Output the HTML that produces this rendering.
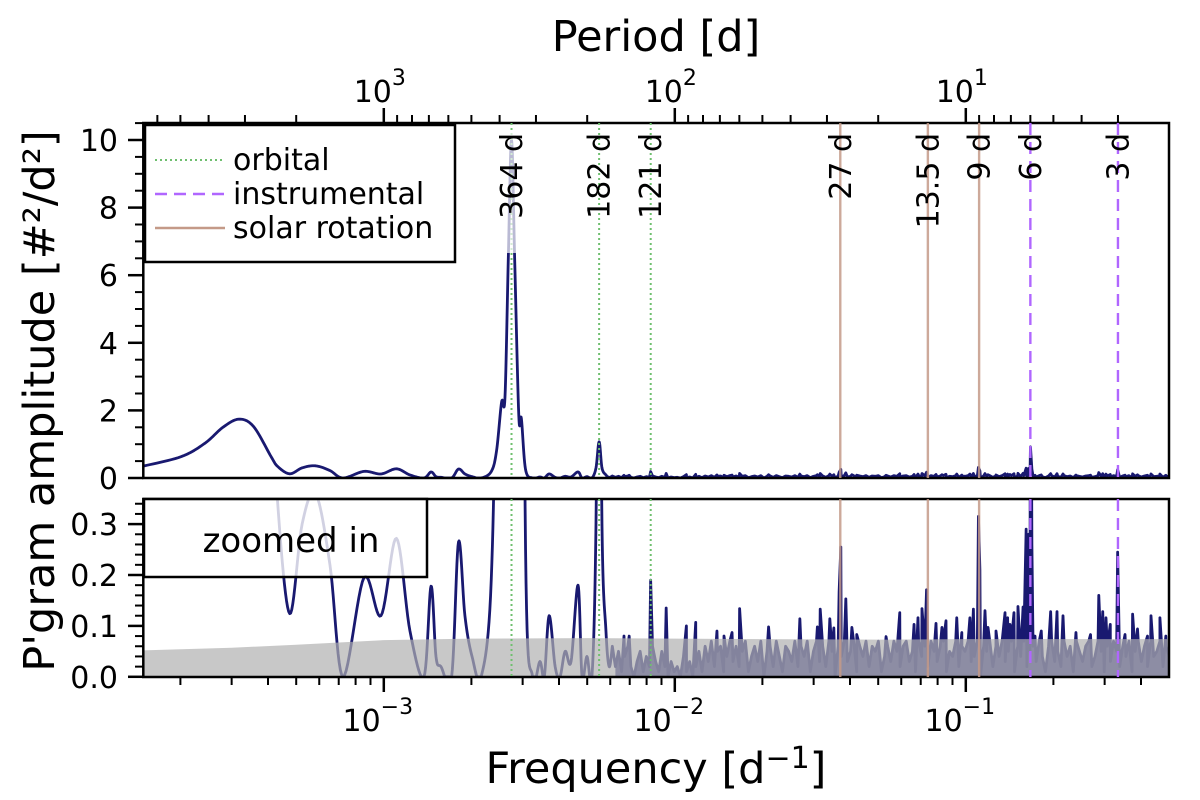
<!DOCTYPE html>
<html><head><meta charset="utf-8"><style>
html,body{margin:0;padding:0;background:#fff;}
svg{display:block;font-family:"DejaVu Sans","Liberation Sans",sans-serif;}
</style></head><body>
<svg id="chart" xmlns="http://www.w3.org/2000/svg" width="1200" height="800" viewBox="0 0 1200 800">
<defs>
<clipPath id="clipTop"><rect x="143.3" y="123" width="1025.7" height="355"/></clipPath>
<clipPath id="clipBot"><rect x="143.3" y="499" width="1025.7" height="178"/></clipPath>
</defs>
<g id="gTopData" clip-path="url(#clipTop)"></g>
<g id="gBotData" clip-path="url(#clipBot)"></g>
<g id="gAxes"></g>
<text x="656" y="51" font-size="43" text-anchor="middle">Period [d]</text>
<text x="656" y="783" font-size="43" text-anchor="middle">Frequency [d<tspan font-size="30" dy="-15">−1</tspan><tspan dy="15">]</tspan></text>
<text transform="translate(54,401) rotate(-90)" font-size="43" text-anchor="middle">P'gram amplitude [#²/d²]</text>
</svg>
<script>
// ---- data ----
const smoothFreq = [1.488e-4,2.01e-4,2.43e-4,2.8e-4,3.18e-4,3.57e-4,4.10e-4,4.32e-4,4.75e-4,5.24e-4,5.83e-4,6.53e-4,7.24e-4,8.55e-4,9.78e-4,1.105e-3,1.23e-3,1.374e-3,1.453e-3,1.511e-3,1.572e-3,1.71e-3,1.806e-3,1.90e-3,2.01e-3,2.16e-3,2.34e-3,2.44e-3,2.54e-3,2.609e-3,2.68e-3,2.747e-3,2.818e-3,2.91e-3,2.97e-3,3.07e-3,3.245e-3,3.44e-3,3.56e-3,3.70e-3,3.88e-3,4.03e-3,4.20e-3,4.40e-3,4.65e-3,4.80e-3,4.99e-3,5.19e-3,5.36e-3,5.495e-3,5.62e-3,5.80e-3,5.95e-3,6.1e-3];
const smoothAmp = [0.35,0.63,1.03,1.5,1.74,1.52,0.63,0.34,0.124,0.30,0.36,0.22,0.0,0.195,0.12,0.272,0.09,0.0,0.178,0.04,0.02,0.0,0.265,0.12,0.04,0.0,0.19,0.8,2.25,2.4,6.6,10.0,6.4,1.85,1.76,0.25,0.0,0.03,0.0,0.12,0.02,0.0,0.05,0.03,0.18,0.0,0.04,0.0,0.3,1.07,0.3,0.09,0.02,0.06];
const noiseAmp = [0.02,0.05,0.01,0.04,0.06,0.02,0.00,0.03,0.05,0.01,0.04,0.02,0.06,0.03,0.01,0.05,0.02,0.00,0.03,0.01,
0.02,0.00,0.04,0.01,0.03,0.00,0.02,0.05,0.01,0.06,0.03,0.07,0.02,0.05,0.06,0.01,0.04,0.07,0.03,0.06,
0.02,0.05,0.07,0.01,0.04,0.06,0.03,0.07,0.00,0.05,0.06,0.02,0.07,0.04,0.01,0.06,0.05,0.03,0.07,0.02,
0.06,0.04,0.07,0.01,0.05,0.07,0.03,0.06,0.02,0.07,0.05,0.00,0.06,0.04,0.07,0.03,0.05,0.07,0.01,0.06,
0.04,0.07,0.02,0.06,0.05,0.07,0.01,0.04,0.06,0.03,0.07,0.05,0.02,0.06,0.07,0.03,0.05,0.01,0.07,0.04,
0.06,0.02,0.07,0.05,0.03,0.06,0.07,0.01,0.05,0.04,0.07,0.02,0.06,0.05,0.07,0.03,0.04,0.07,0.00,0.06,
0.05,0.07,0.02,0.06,0.04,0.07,0.03,0.05,0.07,0.01,0.06,0.04,0.07,0.02,0.05,0.06,0.03,0.07,0.04,0.01,
0.06,0.07,0.03,0.05,0.02,0.07,0.04,0.06,0.01,0.07,0.05,0.03,0.06,0.07,0.02,0.04,0.07,0.05,0.01,0.06,
0.03,0.07,0.05,0.02,0.06,0.04,0.07,0.01,0.05,0.07,0.03,0.06,0.02,0.07,0.04,0.05,0.07,0.02,0.06,0.04];
const spikeFreq = [6.69e-3,6.97e-3,8.26e-3,9.34e-3,1.096e-2,1.180e-2,1.396e-2,1.476e-2,1.573e-2,1.670e-2,2.10e-2,2.69e-2,3.09e-2,3.16e-2,3.41e-2,3.52e-2,3.67e-2,3.72e-2,3.87e-2,4.06e-2,4.22e-2,5.32e-2,5.93e-2,6.64e-2,6.85e-2,7.07e-2,7.33e-2,7.90e-2,8.28e-2,8.55e-2,9.31e-2,9.69e-2,0.1033,0.1062,0.1105,0.1118,0.1164,0.1192,0.1270,0.1364,0.1392,0.1418,0.1464,0.1511,0.1573,0.1612,0.1643,0.1668,0.1687,0.1729,0.1817,0.1957,0.2058,0.2158,0.2391,0.2683,0.2864,0.2955,0.3032,0.3137,0.3325,0.3525,0.3743,0.3891,0.4211,0.4329,0.4646,0.4869];
const spikeAmp = [0.08,0.08,0.19,0.135,0.10,0.107,0.09,0.08,0.087,0.134,0.098,0.114,0.098,0.133,0.114,0.096,0.167,0.255,0.153,0.097,0.083,0.079,0.126,0.103,0.116,0.134,0.171,0.105,0.097,0.11,0.116,0.087,0.116,0.133,0.315,0.21,0.13,0.097,0.09,0.126,0.116,0.103,0.126,0.138,0.137,0.29,0.28,0.92,0.26,0.08,0.09,0.128,0.128,0.12,0.087,0.083,0.16,0.128,0.116,0.103,0.245,0.083,0.123,0.094,0.08,0.12,0.116,0.08];
const bandFreq = [1.488e-4,3e-4,5e-4,1e-3,2e-3,5e-3,1e-2,2e-2,5e-2,0.1,0.2,0.5];
const bandAmp = [0.052,0.057,0.063,0.072,0.075,0.076,0.075,0.074,0.073,0.074,0.074,0.074];
const orbitalPeriods = [364,182,121];
const orbitalLabels = ["364 d","182 d","121 d"];
const solarPeriods = [27,13.5,9];
const solarLabels = ["27 d","13.5 d","9 d"];
const instrPeriods = [6,3];
const instrLabels = ["6 d","3 d"];
const topYTicks = [0,2,4,6,8,10];
const botYTicks = ["0.0","0.1","0.2","0.3"];
const freqDecades = [-3,-2,-1];
const periodDecades = [3,2,1];

// ---- scales ----
const X0=143.3, X1=1169;
function xs(f){return 383.8+291*(Math.log10(f)+3);}
function yT(v){return 478-33.8*v;}
function yB(v){return 676.8-509*v;}
const NS="http://www.w3.org/2000/svg";
function el(tag,attrs,parent){const e=document.createElementNS(NS,tag);for(const k in attrs)e.setAttribute(k,attrs[k]);parent.appendChild(e);return e;}
const svg=document.getElementById('chart');
const gT=document.getElementById('gTopData'), gB=document.getElementById('gBotData'), gA=document.getElementById('gAxes');

function catmull(fr,am){
  const px=fr.map(f=>Math.log10(f)), out=[];
  for(let i=0;i<px.length-1;i++){
    const p0=i>0?i-1:i, p3=i+2<px.length?i+2:i+1;
    for(let s=0;s<12;s++){
      const t=s/12,t2=t*t,t3=t2*t;
      const c=(a,b,cc,d)=>0.5*((2*b)+(-a+cc)*t+(2*a-5*b+4*cc-d)*t2+(-a+3*b-3*cc+d)*t3);
      out.push([Math.pow(10,c(px[p0],px[i],px[i+1],px[p3])),Math.max(0,c(am[p0],am[i],am[i+1],am[p3]))]);
    }
  }
  out.push([fr[fr.length-1],am[am.length-1]]);
  return out;
}
const pts=catmull(smoothFreq,smoothAmp);
const nl0=Math.log10(6.25e-3), nl1=Math.log10(0.5);
const noisePts=noiseAmp.map((a,i)=>[Math.pow(10,nl0+i*(nl1-nl0)/(noiseAmp.length-1)),a]);
const spikePts=spikeFreq.map((f,i)=>[f,spikeAmp[i]]);
const hf=noisePts.concat(spikePts).sort((a,b)=>a[0]-b[0]);
const all=pts.concat(hf);

function pathFor(arr,yf){return arr.map((p,i)=>(i?'L':'M')+xs(p[0]).toFixed(2)+','+yf(p[1]).toFixed(2)).join('');}

const lt=el('path',{d:pathFor(all,yT),fill:'none',stroke:'#191970','stroke-width':2.8,'stroke-linejoin':'round'},gT);



const hfFill=pathFor(hf,yB)+'L'+xs(hf[hf.length-1][0])+','+yB(0)+'L'+xs(hf[0][0])+','+yB(0)+'Z';
const nf=el('path',{d:hfFill,fill:'#191970','fill-opacity':0.85,stroke:'none'},gB);


const lb=el('path',{d:pathFor(all,yB),fill:'none',stroke:'#191970','stroke-width':2.8,'stroke-linejoin':'round'},gB);


let bd='M'+xs(bandFreq[0])+','+yB(0);
bandFreq.forEach((f,i)=>{bd+='L'+xs(f).toFixed(2)+','+yB(bandAmp[i]).toFixed(2);});
bd+='L'+xs(bandFreq[bandFreq.length-1])+','+yB(0)+'Z';
const band=el('path',{d:bd,fill:'#b0b0b0','fill-opacity':0.7,stroke:'none'},gB);



function vlines(periods,labels,style,nm){
  periods.forEach((p,i)=>{
    const x=xs(1/p);
    [[123,478],[499,677]].forEach(r=>{
      const l=el('line',Object.assign({x1:x,x2:x,y1:r[0],y2:r[1]},style),svg);
      
      
    });
    if(i===0&&nm==='orbital'){
      const bx=el('rect',{x:x-12,y:131,width:24,height:122,fill:'#fff','fill-opacity':0.7},svg);
      
      
    }
    const t=el('text',{transform:'translate('+(x+1)+',133) rotate(-90)','text-anchor':'end','dominant-baseline':'central','font-size':30},svg);
    t.textContent=labels[i];
    
    
  });
}
vlines(orbitalPeriods,orbitalLabels,{stroke:'#6fbf6f','stroke-width':2,'stroke-dasharray':'2,3'},'orbital');
vlines(solarPeriods,solarLabels,{stroke:'#c49a88','stroke-width':2.4,'stroke-opacity':0.85},'solar');
vlines(instrPeriods,instrLabels,{stroke:'#b066ff','stroke-width':2.4,'stroke-dasharray':'12,7'},'instrumental');

function ln(x1,y1,x2,y2,w,nm){const l=el('line',{x1,y1,x2,y2,stroke:'#000','stroke-width':w},gA);return l;}
function tx(x,y,s,anchor,size,nm){const t=el('text',{x,y,'text-anchor':anchor,'font-size':size},gA);t.textContent=s;return t;}
[[123,478],[499,677]].forEach((r,k)=>{
  const f=el('rect',{x:X0,y:r[0],width:X1-X0,height:r[1]-r[0],fill:'none',stroke:'#000','stroke-width':2.5},gA);
  
  
});
topYTicks.forEach(v=>{ln(128,yT(v),X0,yT(v),2.5,'y-tick');tx(118,yT(v)+11,String(v),'end',30,'y-tick-label');});
for(let v=0.5;v<10.6;v+=0.5){if(v%2!==0)ln(135,yT(v),X0,yT(v),2,'y-minor-tick');}
botYTicks.forEach(s=>{const v=parseFloat(s);ln(128,yB(v),X0,yB(v),2.5,'y-tick');tx(118,yB(v)+11,s,'end',30,'y-tick-label');});
for(let v=0.02;v<0.345;v+=0.02){const r=Math.round(v*100);if(r%10!==0)ln(135,yB(v),X0,yB(v),2,'y-minor-tick');}
freqDecades.forEach(d=>{
  const x=xs(Math.pow(10,d));
  ln(x,677,x,692,2.5,'x-tick');
  const t=tx(x-6,731,'10','middle',30,'x-tick-label');
  const s=el('tspan',{'font-size':22,dy:-17},t);s.textContent='−'+(-d);
});
for(let d=-4;d<=-1;d++)for(let m=2;m<=9;m++){const f=m*Math.pow(10,d);const x=xs(f);if(x>X0&&x<X1)ln(x,677,x,685,2,'x-minor-tick');}
periodDecades.forEach(d=>{
  const x=xs(Math.pow(10,-d));
  ln(x,123,x,108,2.5,'period-tick');
  const t=tx(x-4,102,'10','middle',30,'period-tick-label');
  const s=el('tspan',{'font-size':22,dy:-17},t);s.textContent=String(d);
});
for(let d=0;d<=3;d++)for(let m=2;m<=9;m++){const p=m*Math.pow(10,d);const x=xs(1/p);if(x>X0&&x<X1)ln(x,123,x,115,2,'period-minor-tick');}

const lg=el('g',{},svg);


el('rect',{x:145,y:125,width:310,height:137,fill:'#fff','fill-opacity':0.8,stroke:'#000','stroke-width':2.5},lg);
const legItems=[['orbital',{stroke:'#6fbf6f','stroke-width':2,'stroke-dasharray':'2,3'}],['instrumental',{stroke:'#b066ff','stroke-width':2.4,'stroke-dasharray':'12,7'}],['solar rotation',{stroke:'#c49a88','stroke-width':2.4}]];
legItems.forEach((it,i)=>{
  const y=160+i*34;
  const l=el('line',Object.assign({x1:155,x2:225,y1:y,y2:y},it[1]),lg);
  
  
  const t=el('text',{x:233,y:y+10,'font-size':30},lg);
  t.textContent=it[0];
  
  
});
const zg=el('g',{},svg);


el('rect',{x:144,y:499,width:283,height:78,fill:'#fff','fill-opacity':0.8,stroke:'#000','stroke-width':2.5},zg);
const zt=el('text',{x:291,y:552,'font-size':34,'text-anchor':'middle'},zg);
zt.textContent='zoomed in';
</script>
</body></html>
